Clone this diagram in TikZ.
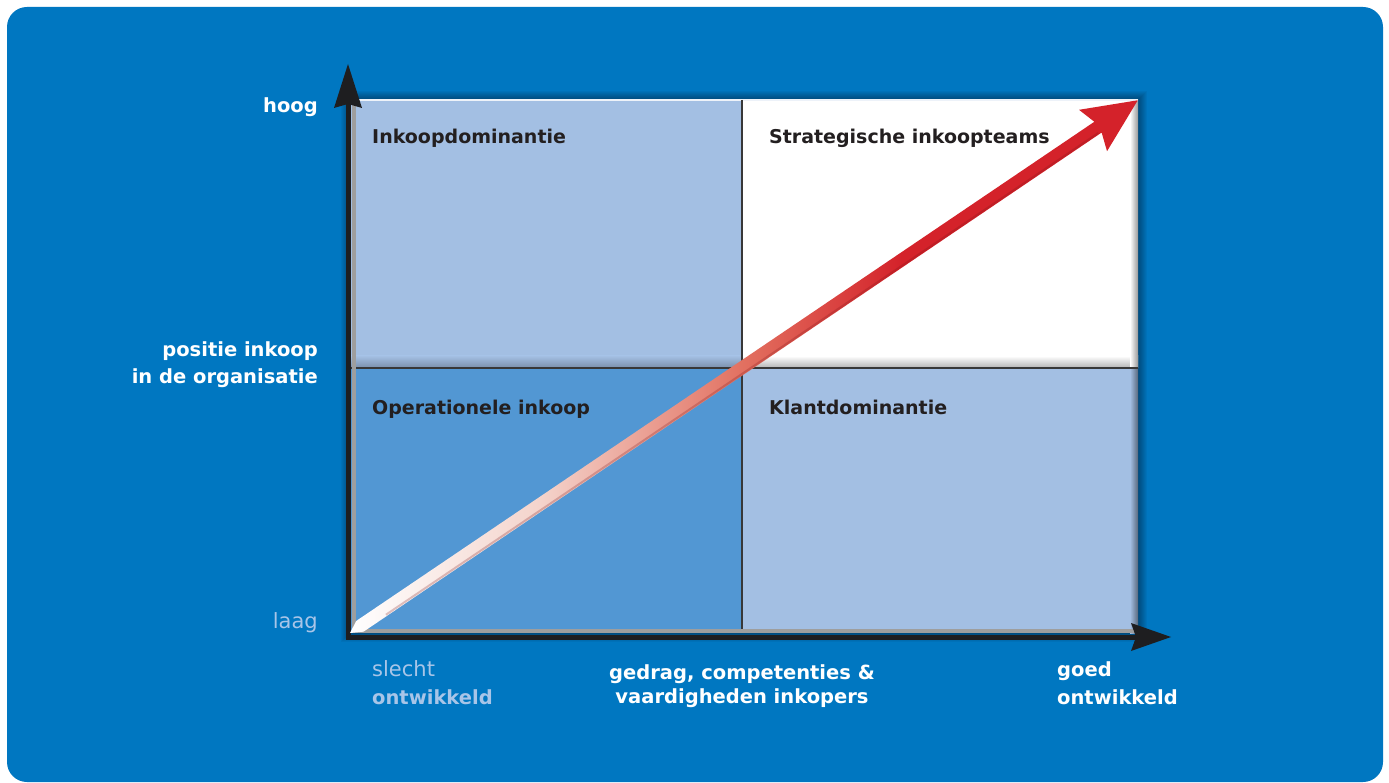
\documentclass[tikz,border=0pt]{standalone}
\usepackage{fontspec}
\setmainfont{DejaVu Sans}

\definecolor{bgblue}{RGB}{0,119,193}
\definecolor{quadlight}{RGB}{163,191,227}
\definecolor{quaddark}{RGB}{82,151,211}
\definecolor{labeldark}{RGB}{35,31,32}
\definecolor{axislight}{RGB}{168,197,232}
\definecolor{axisdark}{RGB}{30,30,32}
\definecolor{arrowred}{RGB}{212,34,42}
\definecolor{arrowsalmon}{RGB}{226,112,96}
\definecolor{arrowpale}{RGB}{244,212,204}

\pgfdeclarehorizontalshading{redfade}{100bp}{color(0bp)=(white); color(25bp)=(white);
  color(37bp)=(arrowpale); color(50bp)=(arrowsalmon); color(60bp)=(arrowred); color(100bp)=(arrowred)}

\tikzset{
  quadlabel/.style={anchor=base west, inner sep=0pt, text=labeldark, font=\fontsize{19}{23}\selectfont\bfseries},
  axisbold/.style={inner sep=0pt, text=white, font=\fontsize{19.5}{24}\selectfont\bfseries},
  axisthin/.style={inner sep=0pt, text=axislight, font=\fontsize{21}{25}\selectfont},
  divider/.style={black!78, line width=2pt},
}

\begin{document}
\begin{tikzpicture}[x=1pt, y=-1pt]
\useasboundingbox (0,0) rectangle (1389,783);
\fill[white] (0,0) rectangle (1389,783);
\fill[bgblue, rounded corners=20pt] (7,7) rectangle (1383,782);

\path (350,633) coordinate (o)
      (742,368) coordinate (m)
      (1138,100) coordinate (ne)
      (350,100) coordinate (nw)
      (1138,633) coordinate (se);

% soft shadow round the grid
\foreach \w in {2,4,...,18}
  \draw[black, opacity=0.045, line width=\w pt] (nw) rectangle (se);

% the four fields
\fill[quadlight] (nw) rectangle (m);
\fill[white] (nw -| m) rectangle (m -| ne);
\fill[quaddark] (o) rectangle (m);
\fill[quadlight] (m) rectangle (se);

\shade[top color=quadlight, bottom color=quadlight!75!black] (nw |- 0,356) rectangle (m);
\shade[top color=white, bottom color=white!70!black] (m |- 0,356) rectangle (m -| ne);
\shade[left color=white, right color=white!60!black] (1130,100) rectangle (m -| ne);
\shade[left color=quadlight, right color=quadlight!55!black] (1130,368) rectangle (se);
\draw[white!80!quadlight, line width=2pt] (nw) -- (ne);

\draw[divider] (nw -| m) -- (o -| m);
\draw[divider] (o |- m) -- (se |- m);

% bevel and axes
\draw[white!62!black, line width=4pt] (354,101) -- (354,631) -- (1138,631);
\path (348,64) coordinate (ytip) (1171,637) coordinate (xtip);
\draw[axisdark, line width=5pt] (348,639) -- (348,104);
\draw[axisdark, line width=5pt] (346,637) -- (1136,637);
\fill[axisdark] (ytip) -- ++(14,44) -- ++(-14,-4) -- ++(-14,4) -- cycle;
\fill[axisdark] (xtip) -- ++(-40,14) -- ++(5,-14) -- ++(-5,-14) -- cycle;

% growth arrow
\begin{scope}[shift={(o)}, rotate=34.07]
  \shade[shading=redfade]
    (0,0) -- (12,-6.5) -- (903,-6.5) -- (897,-25) -- (951,0)
    -- (897,25) -- (903,6.5) -- (12,6.5) -- cycle;
  \draw[arrowred!60!black, opacity=0.25, line width=2pt] (40,5) -- (900,5);
\end{scope}

% field names
\node[quadlabel] (inkdom) at (372,144) {Inkoopdominantie};
\node[quadlabel] (strat) at (769,144) {Strategische inkoopteams};
\node[quadlabel] (oper) at (372,414) {Operationele inkoop};
\node[quadlabel] (klant) at (769,414) {Klantdominantie};

% vertical axis
\node[axisbold, anchor=base east] (hoog) at (318,113) {hoog};
\node[axisbold, anchor=base east] (posA) at (318,357) {positie inkoop};
\node[axisbold, anchor=base east] (posB) at (318,383) {in de organisatie};
\node[axisthin, anchor=base east] (laag) at (318,628) {laag};

% horizontal axis
\node[axisthin, anchor=base west] (slecht) at (372,676) {slecht};
\node[axisbold, text=axislight, anchor=base west] (slechtB) at (372,704) {ontwikkeld};
\node[axisbold, anchor=base] (gedragA) at (742,679) {gedrag, competenties \&};
\node[axisbold, anchor=base] (gedragB) at (742,703) {vaardigheden inkopers};
\node[axisbold, anchor=base west] (goed) at (1057,676) {goed};
\node[axisbold, anchor=base west] (goedB) at (1057,704) {ontwikkeld};
\end{tikzpicture}
\end{document}
